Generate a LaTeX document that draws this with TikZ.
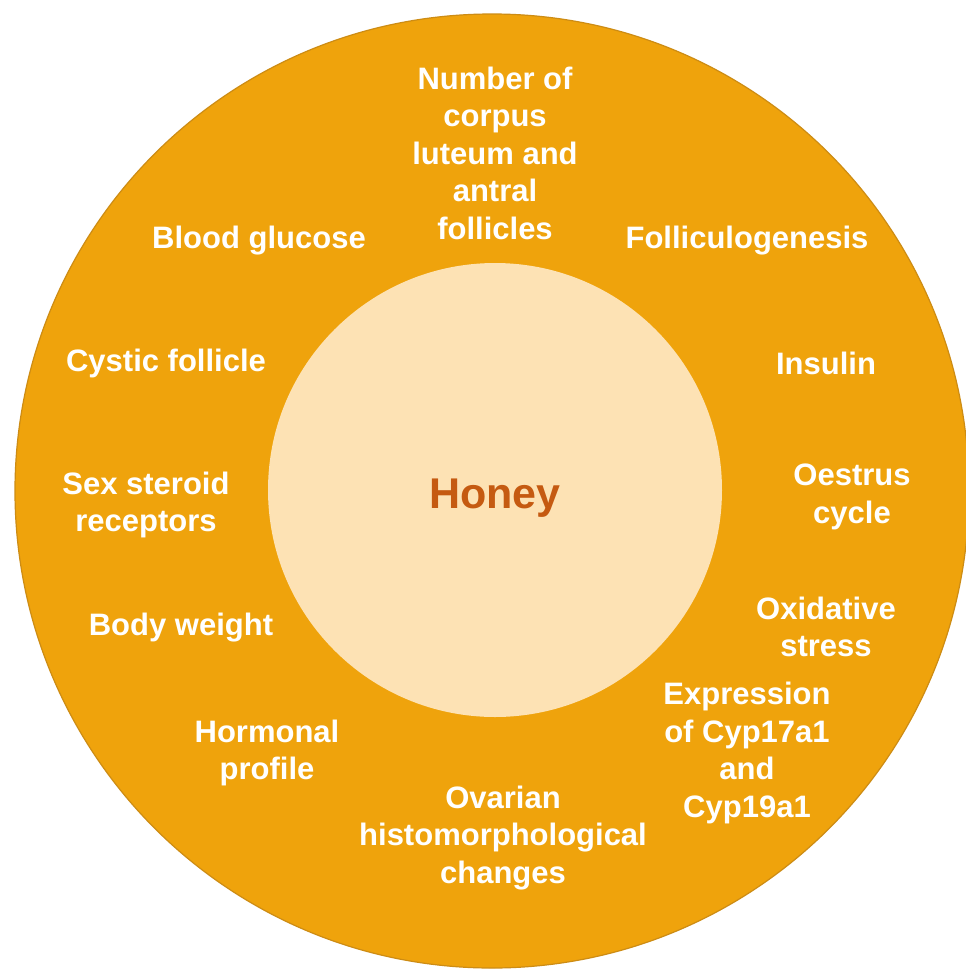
\documentclass[tikz,border=0pt]{standalone}
\usepackage{fontspec}
\setmainfont{Liberation Sans}
\definecolor{outerfill}{RGB}{239,163,12}
\definecolor{outeredge}{RGB}{205,140,20}
\definecolor{innerfill}{RGB}{253,226,180}
\definecolor{honeytext}{RGB}{197,90,17}
\tikzset{
  lbl/.style={text=white, align=center, inner sep=0pt, font=\fontsize{31}{37.5}\selectfont\bfseries},
}
\begin{document}
\begin{tikzpicture}[x=1pt,y=-1pt]
\useasboundingbox (0,0) rectangle (966,970);
\clip (0,0) rectangle (966,970);
\fill[white] (0,0) rectangle (966,970);
\node[circle, fill=outerfill, draw=outeredge, line width=1.2pt, minimum size=954pt, inner sep=0pt] (outer) at (492,491) {};
\node[circle, fill=innerfill, minimum size=454pt, inner sep=0pt] (inner) at (495,490) {};
\node[text=honeytext, inner sep=0pt, font=\fontsize{43}{50}\selectfont\bfseries] (honey) at (495,498) {Honey};
\node[lbl] (corpus) at (495,153) {Number of\\corpus\\luteum and\\antral\\follicles};
\node[lbl] (glucose) at (259,241) {Blood glucose};
\node[lbl] (follic) at (747,241) {Folliculogenesis};
\node[lbl] (cystic) at (166,363) {Cystic follicle};
\node[lbl] (insulin) at (826,363) {Insulin};
\node[lbl] (sex) at (146,505) {Sex steroid\\receptors};
\node[lbl] (oestrus) at (852,497) {Oestrus\\cycle};
\node[lbl] (body) at (181,628) {Body weight};
\node[lbl] (oxid) at (826,627) {Oxidative\\stress};
\node[lbl] (hormonal) at (267,753) {Hormonal\\profile};
\node[lbl] (expr) at (747,753) {Expression\\of Cyp17a1\\and\\Cyp19a1};
\node[lbl] (ovarian) at (503,838) {Ovarian\\histomorphological\\changes};
\end{tikzpicture}
\end{document}
